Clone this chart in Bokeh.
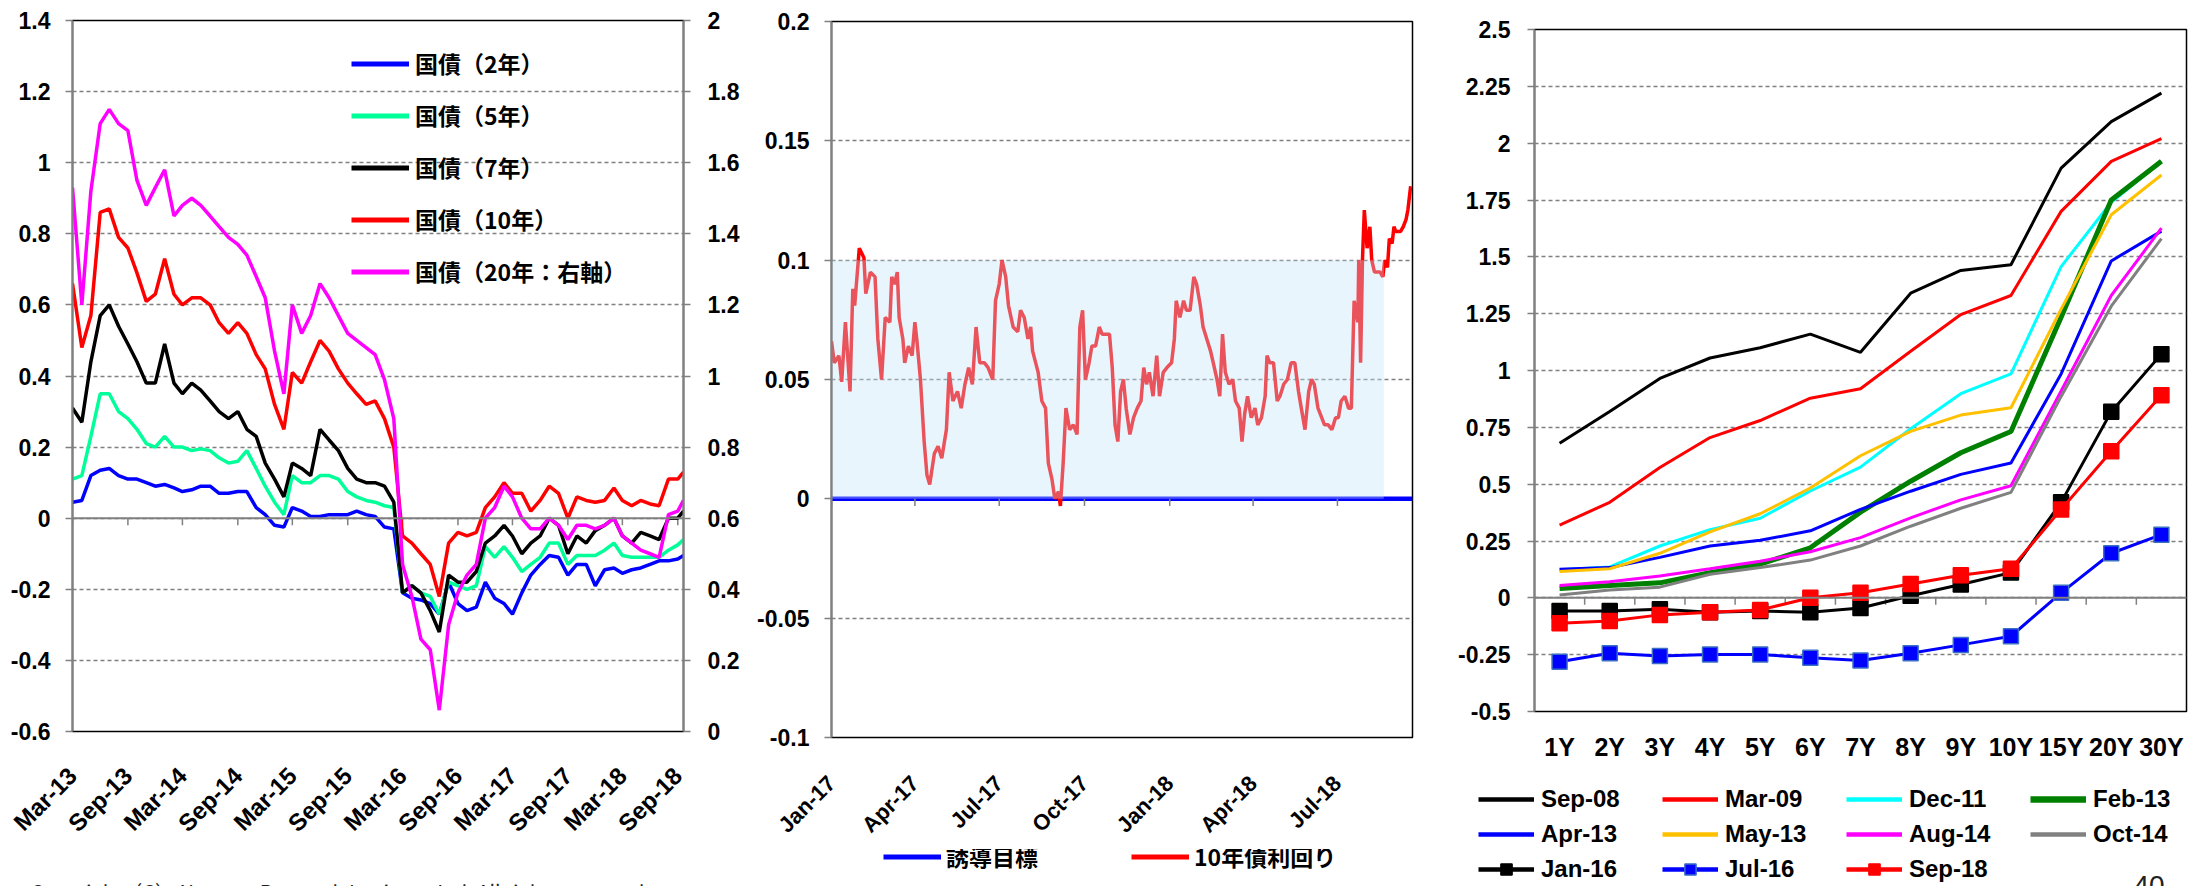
import math
import pandas as pd
from bokeh.plotting import figure
from bokeh.models import (Range1d, LinearAxis, FixedTicker, DatetimeTickFormatter,
                          CustomJSTickFormatter, Span, Legend, LegendItem, Label)
from bokeh.layouts import row, column
from bokeh.embed import file_html
from bokeh.resources import INLINE

# ======================= DATA =======================
# --- left chart: JGB yields, monthly readings (Mar-13 .. Sep-18) ---
LEFT_START = "2013-03-01"
LEFT_END = "2018-09-20"
LEFT_TICKS = ["2013-03-01", "2013-09-01", "2014-03-01", "2014-09-01", "2015-03-01", "2015-09-01",
              "2016-03-01", "2016-09-01", "2017-03-01", "2017-09-01", "2018-03-01", "2018-09-01"]
LEFT_NAMES = ["国債（2年）", "国債（5年）", "国債（7年）", "国債（10年）", "国債（20年：右軸）"]
JGB2 = [0.045, 0.05, 0.12, 0.135, 0.14, 0.12, 0.11, 0.11, 0.10, 0.09, 0.095, 0.085, 0.075, 0.08,
        0.09, 0.09, 0.07, 0.07, 0.075, 0.075, 0.03, 0.01, -0.02, -0.025, 0.03, 0.02, 0.005, 0.005,
        0.01, 0.01, 0.01, 0.02, 0.01, 0.005, -0.025, -0.03, -0.21, -0.225, -0.23, -0.24, -0.27,
        -0.18, -0.24, -0.26, -0.25, -0.18, -0.225, -0.24, -0.27, -0.21, -0.16, -0.13, -0.105,
        -0.11, -0.16, -0.13, -0.13, -0.19, -0.145, -0.14, -0.155, -0.145, -0.14, -0.13, -0.12,
        -0.12, -0.115, -0.105]
JGB5 = [0.11, 0.12, 0.23, 0.35, 0.35, 0.30, 0.28, 0.25, 0.21, 0.20, 0.23, 0.20, 0.20, 0.19, 0.195,
        0.19, 0.17, 0.155, 0.16, 0.19, 0.14, 0.09, 0.045, 0.01, 0.12, 0.10, 0.10, 0.12, 0.12, 0.11,
        0.075, 0.06, 0.05, 0.045, 0.035, 0.03, -0.21, -0.19, -0.21, -0.22, -0.27, -0.18, -0.19,
        -0.20, -0.19, -0.08, -0.11, -0.08, -0.11, -0.15, -0.13, -0.11, -0.07, -0.07, -0.13, -0.105,
        -0.105, -0.105, -0.09, -0.07, -0.105, -0.11, -0.11, -0.11, -0.11, -0.09, -0.075, -0.06]
JGB7 = [0.31, 0.27, 0.44, 0.57, 0.60, 0.54, 0.49, 0.44, 0.38, 0.38, 0.49, 0.38, 0.35, 0.38, 0.36,
        0.33, 0.30, 0.28, 0.30, 0.25, 0.23, 0.155, 0.11, 0.06, 0.155, 0.14, 0.12, 0.25, 0.22, 0.19,
        0.14, 0.11, 0.10, 0.10, 0.09, 0.045, -0.21, -0.19, -0.21, -0.26, -0.32, -0.16, -0.18, -0.18,
        -0.15, -0.07, -0.05, -0.02, -0.05, -0.10, -0.07, -0.05, 0.00, -0.02, -0.10, -0.05, -0.07,
        -0.035, -0.02, 0.00, -0.05, -0.07, -0.04, -0.05, -0.06, 0.00, 0.00, 0.02]
JGB10 = [0.66, 0.48, 0.57, 0.86, 0.87, 0.79, 0.76, 0.69, 0.61, 0.63, 0.73, 0.63, 0.60, 0.62, 0.62,
         0.60, 0.55, 0.52, 0.55, 0.52, 0.46, 0.42, 0.32, 0.25, 0.41, 0.38, 0.44, 0.50, 0.47, 0.42,
         0.38, 0.35, 0.32, 0.33, 0.28, 0.20, -0.05, -0.07, -0.10, -0.13, -0.22, -0.07, -0.04, -0.05,
         -0.04, 0.03, 0.06, 0.10, 0.07, 0.07, 0.02, 0.05, 0.09, 0.07, 0.00, 0.06, 0.05, 0.045, 0.05,
         0.085, 0.05, 0.035, 0.05, 0.04, 0.035, 0.11, 0.11, 0.13]
JGB20 = [1.53, 1.20, 1.52, 1.71, 1.75, 1.71, 1.69, 1.55, 1.48, 1.53, 1.58, 1.45, 1.48, 1.50, 1.48,
         1.45, 1.42, 1.39, 1.37, 1.34, 1.28, 1.22, 1.07, 0.95, 1.20, 1.12, 1.17, 1.26, 1.22, 1.17,
         1.12, 1.10, 1.08, 1.06, 0.99, 0.88, 0.47, 0.38, 0.26, 0.23, 0.06, 0.30, 0.39, 0.44, 0.47,
         0.60, 0.63, 0.69, 0.66, 0.60, 0.57, 0.57, 0.60, 0.58, 0.54, 0.58, 0.58, 0.57, 0.58, 0.60,
         0.55, 0.53, 0.51, 0.50, 0.49, 0.61, 0.62, 0.65]
LEFT_Y_TICKS = [-0.6, -0.4, -0.2, 0, 0.2, 0.4, 0.6, 0.8, 1.0, 1.2, 1.4]
RIGHT_Y_TICKS = [0, 0.2, 0.4, 0.6, 0.8, 1.0, 1.2, 1.4, 1.6, 1.8, 2.0]

# --- middle chart: 10y JGB vs target (days after 2017-01-01) ---
MID_START = "2017-01-01"
MID_END = "2018-09-20"
MID_TICKS = ["2017-01-01", "2017-04-01", "2017-07-01", "2017-10-01", "2018-01-01", "2018-04-01", "2018-07-01"]
MID_NAMES = ["誘導目標", "10年債利回り"]
MID_DAY = [0, 3, 8, 11, 15, 20, 23, 25, 30, 35, 37, 42, 47, 50, 54, 58, 63, 65, 68, 71,
           73, 77, 79, 83, 87, 90, 92, 96, 100, 103, 106, 111, 115, 119, 124, 127, 131, 136, 140, 144,
           148, 152, 156, 160, 165, 169, 174, 177, 181, 184, 188, 191, 196, 201, 204, 208, 212, 215, 217, 223,
           227, 231, 234, 238, 241, 245, 247, 250, 253, 257, 261, 265, 268, 271, 274, 278, 281, 285, 289, 292,
           297, 300, 303, 306, 309, 312, 315, 318, 322, 326, 330, 334, 337, 340, 343, 347, 351, 354, 358, 362,
           367, 370, 372, 376, 380, 383, 387, 391, 394, 398, 401, 405, 409, 412, 416, 419, 422, 425, 429, 433,
           436, 440, 443, 446, 449, 453, 457, 460, 464, 468, 470, 473, 477, 481, 484, 488, 492, 496, 500, 504,
           507, 511, 515, 518, 521, 525, 529, 532, 536, 540, 544, 547, 550, 554, 558, 561, 564, 568, 569, 571,
           573, 575, 578, 581, 583, 586, 589, 592, 595, 597, 600, 602, 605, 607, 609, 612, 614, 617, 620, 622,
           625]
MID_10Y = [0.066, 0.057, 0.06, 0.049, 0.074, 0.045, 0.088, 0.081, 0.105, 0.101,
           0.086, 0.095, 0.093, 0.067, 0.05, 0.076, 0.074, 0.093, 0.09, 0.095,
           0.076, 0.067, 0.057, 0.064, 0.06, 0.074, 0.067, 0.05, 0.024, 0.01,
           0.006, 0.019, 0.022, 0.017, 0.029, 0.053, 0.041, 0.045, 0.038, 0.048,
           0.055, 0.048, 0.072, 0.057, 0.057, 0.055, 0.05, 0.083, 0.09, 0.1,
           0.093, 0.081, 0.072, 0.07, 0.079, 0.076, 0.067, 0.072, 0.062, 0.053,
           0.041, 0.038, 0.015, 0.008, 0.0, 0.003, -0.003, 0.015, 0.038, 0.029,
           0.031, 0.027, 0.072, 0.079, 0.05, 0.057, 0.064, 0.064, 0.072, 0.069,
           0.069, 0.069, 0.055, 0.031, 0.024, 0.045, 0.05, 0.038, 0.027, 0.034,
           0.038, 0.041, 0.055, 0.048, 0.053, 0.043, 0.06, 0.043, 0.053, 0.055,
           0.057, 0.067, 0.083, 0.076, 0.083, 0.079, 0.079, 0.093, 0.09, 0.081,
           0.072, 0.067, 0.062, 0.057, 0.05, 0.043, 0.069, 0.053, 0.048, 0.05,
           0.041, 0.038, 0.024, 0.036, 0.043, 0.034, 0.038, 0.031, 0.034, 0.043,
           0.06, 0.057, 0.057, 0.041, 0.043, 0.048, 0.05, 0.057, 0.057, 0.045,
           0.038, 0.029, 0.045, 0.05, 0.048, 0.038, 0.034, 0.031, 0.031, 0.029,
           0.034, 0.034, 0.041, 0.043, 0.038, 0.038, 0.083, 0.074, 0.1, 0.057,
           0.1, 0.121, 0.105, 0.114, 0.1, 0.095, 0.095, 0.095, 0.093, 0.1,
           0.097, 0.109, 0.107, 0.114, 0.112, 0.112, 0.112, 0.114, 0.117, 0.121,
           0.131]
TARGET = 0.0
BAND_LOW, BAND_HIGH = 0.0, 0.1
BAND_END = "2018-08-20"
MID_Y_TICKS = [-0.1, -0.05, 0, 0.05, 0.1, 0.15, 0.2]

# --- right chart: yield curves ---
TENORS = ["1Y", "2Y", "3Y", "4Y", "5Y", "6Y", "7Y", "8Y", "9Y", "10Y", "15Y", "20Y", "30Y"]
CURVES = {
    "Sep-08": [0.68, 0.82, 0.965, 1.055, 1.10, 1.16, 1.08, 1.34, 1.44, 1.465, 1.89, 2.095, 2.22],
    "Mar-09": [0.32, 0.42, 0.573, 0.705, 0.78, 0.878, 0.92, 1.085, 1.246, 1.33, 1.70, 1.92, 2.02],
    "Dec-11": [0.123, 0.136, 0.228, 0.30, 0.35, 0.47, 0.575, 0.744, 0.898, 0.985, 1.457, 1.74, 1.92],
    "Feb-13": [0.041, 0.054, 0.066, 0.11, 0.148, 0.22, 0.377, 0.513, 0.638, 0.732, 1.234, 1.75, 1.92],
    "Apr-13": [0.126, 0.133, 0.178, 0.228, 0.253, 0.295, 0.389, 0.469, 0.543, 0.593, 0.985, 1.482, 1.613],
    "May-13": [0.116, 0.128, 0.196, 0.29, 0.37, 0.483, 0.625, 0.732, 0.804, 0.836, 1.27, 1.685, 1.86],
    "Aug-14": [0.054, 0.071, 0.096, 0.128, 0.161, 0.203, 0.265, 0.352, 0.431, 0.493, 0.91, 1.33, 1.626],
    "Oct-14": [0.012, 0.034, 0.047, 0.104, 0.133, 0.166, 0.228, 0.315, 0.394, 0.464, 0.886, 1.283, 1.58],
    "Jan-16": [-0.058, -0.058, -0.05, -0.063, -0.058, -0.063, -0.045, 0.009, 0.059, 0.111, 0.42, 0.819, 1.072],
    "Jul-16": [-0.281, -0.244, -0.256, -0.249, -0.249, -0.264, -0.276, -0.244, -0.207, -0.169, 0.022, 0.196, 0.278],
    "Sep-18": [-0.112, -0.102, -0.075, -0.063, -0.053, 0.0, 0.022, 0.061, 0.099, 0.128, 0.389, 0.645, 0.891],
}
CURVE_Y_TICKS = [-0.5, -0.25, 0, 0.25, 0.5, 0.75, 1.0, 1.25, 1.5, 1.75, 2.0, 2.25, 2.5]

COPYRIGHT = "Copyright（C） Nomura Research Institute, Ltd. All rights reserved."
PAGE_NO = "40"

# ======================= STYLE =======================
FONT = "Liberation Sans"
CJK = "Noto Sans CJK JP"
CJK_BOLD = "Noto Sans CJK JP Bold, Noto Sans CJK JP"
GRAY = "#808080"


def num_fmt():
    return CustomJSTickFormatter(code="return String(Math.round(tick*1000)/1000);")


def ms(d):
    return pd.Timestamp(d).value // 10**6


def style_y(ax, ticks, size="23px", standoff=16):
    ax.ticker = FixedTicker(ticks=ticks)
    ax.formatter = num_fmt()
    ax.axis_line_color = GRAY
    ax.axis_line_width = 2
    ax.major_tick_line_color = GRAY
    ax.major_tick_line_width = 1.5
    ax.major_tick_out = 7
    ax.major_tick_in = 0
    ax.minor_tick_line_color = None
    ax.major_label_text_font = FONT
    ax.major_label_text_font_style = "bold"
    ax.major_label_text_font_size = size
    ax.major_label_text_color = "black"
    ax.major_label_standoff = standoff


def style_x(ax, size="22px", standoff=22, orientation=math.pi / 4):
    ax.axis_line_color = None
    ax.major_tick_line_color = None
    ax.minor_tick_line_color = None
    ax.major_label_text_font = FONT
    ax.major_label_text_font_style = "bold"
    ax.major_label_text_font_size = size
    ax.major_label_text_color = "black"
    ax.major_label_standoff = standoff
    ax.major_label_orientation = orientation


def style_grid(p, ticks):
    p.xgrid.visible = False
    p.ygrid.ticker = FixedTicker(ticks=ticks)
    p.ygrid.grid_line_color = GRAY
    p.ygrid.grid_line_dash = "4 3"
    p.ygrid.grid_line_width = 1.5
    p.outline_line_color = "black"
    p.outline_line_width = 1.5


def legend(items, loc, font, size, gw=58, gh=24, spacing=27, standoff=6, style="bold"):
    lg = Legend(items=items, location=loc, orientation="vertical")
    lg.label_text_font = font
    lg.label_text_font_style = style
    lg.label_text_font_size = size
    lg.label_text_color = "black"
    lg.glyph_width = gw
    lg.glyph_height = gh
    lg.label_height = gh
    lg.spacing = spacing
    lg.padding = 0
    lg.margin = 0
    lg.label_standoff = standoff
    lg.border_line_color = None
    lg.background_fill_alpha = 0
    lg.inactive_fill_alpha = 0
    return lg


def strip(w, h):
    s = figure(width=w, height=h, x_range=Range1d(0, w), y_range=Range1d(0, h),
               output_backend="svg", toolbar_location=None, min_border=0,
               x_axis_location=None, y_axis_location=None)
    s.grid.visible = False
    s.outline_line_color = None
    return s


date_fmt = dict(milliseconds="%b-%y", seconds="%b-%y", minsec="%b-%y", minutes="%b-%y",
                hourmin="%b-%y", hours="%b-%y", days="%b-%y", months="%b-%y", years="%b-%y")

# ======================= LEFT CHART =======================
left_dates = pd.DatetimeIndex(list(pd.date_range(LEFT_START, periods=len(JGB2) - 1, freq="MS"))
                              + [pd.Timestamp(LEFT_END)])
pL = figure(frame_width=611, frame_height=711, x_axis_type="datetime",
            x_range=Range1d(pd.Timestamp(LEFT_START), pd.Timestamp(LEFT_END)),
            y_range=Range1d(-0.6, 1.4), output_backend="svg", toolbar_location=None,
            min_border_left=72, min_border_right=62, min_border_top=20, min_border_bottom=135)
pL.extra_y_ranges = {"r": Range1d(0, 2)}
pL.add_layout(LinearAxis(y_range_name="r"), "right")
style_grid(pL, LEFT_Y_TICKS)
style_y(pL.yaxis[0], LEFT_Y_TICKS, standoff=15)
style_y(pL.yaxis[1], RIGHT_Y_TICKS, standoff=17)
pL.xaxis.ticker = FixedTicker(ticks=[ms(d) for d in LEFT_TICKS])
pL.xaxis.formatter = DatetimeTickFormatter(**date_fmt)
style_x(pL.xaxis[0], size="24px", standoff=34)
pL.add_layout(Span(location=0, dimension="width", line_color=GRAY, line_width=2))
lt = pd.DatetimeIndex(LEFT_TICKS)
pL.segment(x0=lt, y0=[0] * len(lt), x1=lt, y1=[-0.02] * len(lt), line_color=GRAY, line_width=1.5)

left_items = []
for name, vals, col, yr in [(LEFT_NAMES[0], JGB2, "#0000FF", "default"),
                            (LEFT_NAMES[1], JGB5, "#00FF99", "default"),
                            (LEFT_NAMES[2], JGB7, "#000000", "default"),
                            (LEFT_NAMES[3], JGB10, "#FF0000", "default"),
                            (LEFT_NAMES[4], JGB20, "#FF00FF", "r")]:
    pL.line(left_dates, vals, line_color=col, line_width=3.5, y_range_name=yr)
    key = pL.line(left_dates, vals, line_color=col, line_width=5, y_range_name=yr, visible=False)
    left_items.append(LegendItem(label=name, renderers=[key]))
pL.add_layout(legend(left_items, (279, 443), CJK_BOLD, "23px", gh=33, spacing=18))

sL = strip(745, 20)
sL.add_layout(Label(x=30, y=10, x_units="screen", y_units="screen", text=COPYRIGHT,
                    text_font=CJK, text_font_size="20px", text_baseline="top", text_color="#222222"))

# ======================= MIDDLE CHART =======================
mid_dates = pd.Timestamp(MID_START) + pd.to_timedelta(MID_DAY, unit="D")
pM = figure(frame_width=581, frame_height=716, x_axis_type="datetime",
            x_range=Range1d(pd.Timestamp(MID_START), pd.Timestamp(MID_END)),
            y_range=Range1d(-0.1, 0.2), output_backend="svg", toolbar_location=None,
            min_border_left=86, min_border_right=28, min_border_top=21, min_border_bottom=106)
style_grid(pM, MID_Y_TICKS)
style_y(pM.yaxis[0], MID_Y_TICKS, standoff=15)
pM.xaxis.ticker = FixedTicker(ticks=[ms(d) for d in MID_TICKS])
pM.xaxis.formatter = DatetimeTickFormatter(**date_fmt)
style_x(pM.xaxis[0], standoff=36)
tgt_x = [pd.Timestamp(MID_START), pd.Timestamp(MID_END)]
pM.line(tgt_x, [TARGET, TARGET], line_color="#0000FF", line_width=4.5)
mt = pd.DatetimeIndex(MID_TICKS)
pM.segment(x0=mt, y0=[0] * len(mt), x1=mt, y1=[-0.003] * len(mt), line_color=GRAY, line_width=1.5)
pM.line(mid_dates, MID_10Y, line_color="#FF0000", line_width=3.5)
pM.varea(x=[pd.Timestamp(MID_START), pd.Timestamp(BAND_END)], y1=[BAND_LOW, BAND_LOW],
         y2=[BAND_HIGH, BAND_HIGH], fill_color="#C4E4FA", fill_alpha=0.37)

sM = strip(695, 43)
kT = sM.line(tgt_x, [TARGET, TARGET], line_color="#0000FF", line_width=5, visible=False)
kY = sM.line(mid_dates, MID_10Y, line_color="#FF0000", line_width=5, visible=False)
sM.add_layout(legend([LegendItem(label=MID_NAMES[0], renderers=[kT])], (138, 19), CJK_BOLD, "23px",
                     gh=33, standoff=5))
sM.add_layout(legend([LegendItem(label=MID_NAMES[1], renderers=[kY])], (386, 19), CJK_BOLD, "23px",
                     gh=33, standoff=5))

# ======================= RIGHT CHART =======================
xi = list(range(len(TENORS)))
pR = figure(frame_width=652, frame_height=682, x_range=Range1d(-0.5, len(TENORS) - 0.5),
            y_range=Range1d(-0.5, 2.5), output_backend="svg", toolbar_location=None,
            min_border_left=94, min_border_right=11, min_border_top=29, min_border_bottom=69)
style_grid(pR, CURVE_Y_TICKS)
style_y(pR.yaxis[0], CURVE_Y_TICKS, standoff=17)
pR.xaxis.ticker = FixedTicker(ticks=xi)
pR.xaxis.major_label_overrides = {i: t for i, t in enumerate(TENORS)}
style_x(pR.xaxis[0], size="25px", standoff=15, orientation="horizontal")
pR.add_layout(Span(location=0, dimension="width", line_color=GRAY, line_width=2))
bounds = [i + 0.5 for i in xi[:-1]]
pR.segment(x0=bounds, y0=[0] * len(bounds), x1=bounds, y1=[-0.03] * len(bounds),
           line_color=GRAY, line_width=1.5)

curve_style = {
    "Sep-08": ("#000000", 3, None), "Mar-09": ("#FF0000", 3, None), "Dec-11": ("#00FFFF", 3, None),
    "Feb-13": ("#008000", 5, None), "Apr-13": ("#0000FF", 3, None), "May-13": ("#FFC000", 3, None),
    "Aug-14": ("#FF00FF", 3, None), "Oct-14": ("#808080", 3, None),
    "Jan-16": ("#000000", 3, "#000000"), "Jul-16": ("#0000FF", 3, "#3A6FC4"),
    "Sep-18": ("#FF0000", 3, "#FF0000"),
}
sR = strip(757, 106)
curve_items = {}
for name, vals in CURVES.items():
    col, lw, mline = curve_style[name]
    pR.line(xi, vals, line_color=col, line_width=lw)
    keys = [sR.line(xi, vals, line_color=col, line_width=lw + 1.5, visible=False)]
    if mline is not None:
        pR.scatter(xi, vals, marker="square", size=15, fill_color=col, line_color=mline, line_width=1.5)
        keys.append(sR.scatter(xi, vals, marker="square", fill_color=col, line_color=mline,
                               line_width=1.5, visible=False))
    curve_items[name] = LegendItem(label=name, renderers=keys)

cols = [["Sep-08", "Apr-13", "Jan-16"], ["Mar-09", "May-13", "Jul-16"],
        ["Dec-11", "Aug-14", "Sep-18"], ["Feb-13", "Oct-14"]]
for k, names in enumerate(cols):
    n = len(names)
    h = n * 28 + (n - 1) * 7
    sR.add_layout(legend([curve_items[nm] for nm in names], (38 + 184 * k, 106 - 5 - h), FONT, "24px",
                         gw=56, gh=28, spacing=7, standoff=7))
sR.add_layout(Label(x=693, y=11, x_units="screen", y_units="screen", text=PAGE_NO,
                    text_font=FONT, text_font_size="28px", text_baseline="top", text_color="#222222"))

layout = row(column(row(pL), row(sL)), column(row(pM), row(sM)), column(row(pR), row(sR)))
open("out.html", "w").write(file_html(layout, INLINE))
